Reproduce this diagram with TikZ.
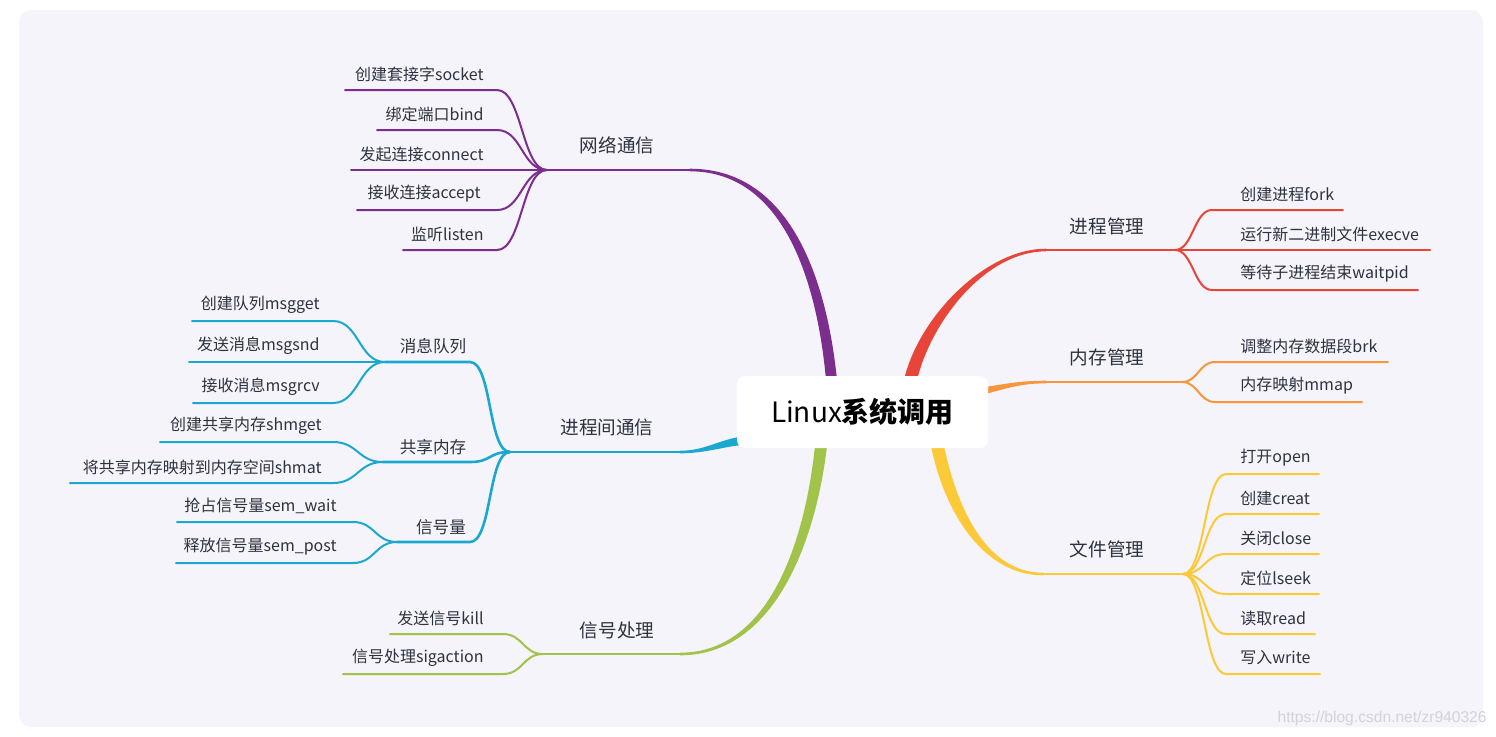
\documentclass[tikz,border=0pt]{standalone}
\usepackage{fontspec}
\setmainfont{Noto Sans CJK SC}
\newfontfamily\wmfont{Liberation Sans}
\definecolor{bgc}{HTML}{F5F4FA}
\definecolor{txt}{HTML}{2D3240}
\definecolor{pur}{HTML}{7B2E8E}
\definecolor{cya}{HTML}{1BA8CE}
\definecolor{grn}{HTML}{A1C34A}
\definecolor{rd}{HTML}{E84539}
\definecolor{ora}{HTML}{F7963A}
\definecolor{yel}{HTML}{FCC938}
\definecolor{wm}{HTML}{D2D2DA}
\tikzset{
  leaf/.style={font=\fontsize{8}{9.6}\selectfont, text=txt, inner sep=0pt},
  sublabel/.style={font=\fontsize{8.3}{10}\selectfont, text=txt, inner sep=0pt},
  brlabel/.style={font=\fontsize{9.3}{11}\selectfont, text=txt, inner sep=0pt},
  leafwire/.style={line width=1pt, line cap=round},
  brwire/.style={line width=1.3pt, line cap=round},
}
% name, text, xL, xR, y, textx, junction, colour, d
\newcommand\lleaf[9]{%
  \coordinate (#1-a) at (#3,#5);
  \coordinate (#1-b) at (#4,#5);
  \node[leaf,anchor=east] (#1) at (#6,#5-16) {#2};
  \draw[leafwire,#8] (#1-a) -- (#1-b) .. controls +(#9,0) and +(-#9,0) .. (#7);
}
\newcommand\rleaf[9]{%
  \coordinate (#1-a) at (#3,#5);
  \coordinate (#1-b) at (#4,#5);
  \node[leaf,anchor=west] (#1) at (#6,#5-16) {#2};
  \draw[leafwire,#8] (#7) .. controls +(#9,0) and +(-#9,0) .. (#1-a) -- (#1-b);
}
\begin{document}
\begin{tikzpicture}[x=0.5pt,y=-0.5pt]
\useasboundingbox (0,0) rectangle (1496,736);
\fill[white] (0,0) rectangle (1496,736);
\fill[bgc, rounded corners=6pt] (19,10) rectangle (1483,727);

% junctions and branch ends
\coordinate (J1) at (547,170);  \coordinate (A1) at (690,170);
\coordinate (J2) at (510,452);  \coordinate (A2) at (680,452);
\coordinate (J3) at (543,654);  \coordinate (A3) at (680,654);
\coordinate (J4) at (1175,250); \coordinate (A4) at (1046,250);
\coordinate (J5) at (1182,382); \coordinate (A5) at (1046,382);
\coordinate (J6) at (1183,574); \coordinate (A6) at (1043,574);
\coordinate (Q) at (385,362); \coordinate (Qe) at (470,362);
\coordinate (S) at (383,462); \coordinate (Se) at (470,462);
\coordinate (M) at (397,542); \coordinate (Me) at (470,542);

% tapered main branches
\fill[pur] (690,168.7) .. controls (795,168.7) and (828,290) .. (837,380) -- (826,380) .. controls (818,290) and (787,171.3) .. (690,171.3) -- cycle;
\fill[cya] (680,450.7) .. controls (705,450.7) and (718,440) .. (742,436.5) -- (742,445) .. controls (722,447) and (705,453.3) .. (680,453.3) -- cycle;
\fill[grn] (680,652.7) .. controls (770,652.7) and (805,540) .. (815,446) -- (827,446) .. controls (816,540) and (775,655.3) .. (680,655.3) -- cycle;
\fill[rd] (1046,248.7) .. controls (985,248.7) and (918,318) .. (904,380) -- (917,380) .. controls (931,322) and (985,251.3) .. (1046,251.3) -- cycle;
\fill[ora] (1046,380.7) .. controls (1020,380.7) and (1005,384) .. (985,387) -- (985,394) .. controls (1005,389) and (1020,383.3) .. (1046,383.3) -- cycle;
\fill[yel] (1043,575.3) .. controls (985,575.3) and (945,515) .. (931,446) -- (944,446) .. controls (958,512) and (988,572.7) .. (1043,572.7) -- cycle;

\draw[brwire,pur] (J1) -- (A1);
\draw[brwire,cya] (J2) -- (A2);
\draw[brwire,grn] (J3) -- (A3);
\draw[brwire,rd] (J4) -- (A4);
\draw[brwire,ora] (J5) -- (A5);
\draw[brwire,yel] (J6) -- (A6);

% IPC sub-branches
\draw[brwire,cya] (Q) -- (Qe) .. controls +(22,0) and +(-22,0) .. (J2);
\draw[brwire,cya] (S) -- (Se) .. controls +(22,0) and +(-22,0) .. (J2);
\draw[brwire,cya] (M) -- (Me) .. controls +(22,0) and +(-22,0) .. (J2);

% root
\node[fill=white, rounded corners=4pt, minimum width=125.5pt, minimum height=36pt, inner sep=0pt,
      font=\fontsize{14}{16}\selectfont, text=black] (root) at (862.5,412) {Linux\textbf{系统调用}};

% branch labels
\node[brlabel] (net) at (617,145) {网络通信};
\node[brlabel] (ipc) at (607,427) {进程间通信};
\node[brlabel] (sig) at (617,630) {信号处理};
\node[brlabel] (proc) at (1107,226) {进程管理};
\node[brlabel] (mem) at (1107,357) {内存管理};
\node[brlabel] (file) at (1107,549) {文件管理};
\node[sublabel] (mq) at (433,346) {消息队列};
\node[sublabel] (shm) at (433,447) {共享内存};
\node[sublabel] (sem) at (441,527) {信号量};

% network leaves
\lleaf{socket}{创建套接字socket}{345}{497}{90}{484}{J1}{pur}{25}
\lleaf{bind}{绑定端口bind}{377}{497}{130}{484}{J1}{pur}{25}
\lleaf{connect}{发起连接connect}{351}{497}{170}{484}{J1}{pur}{25}
\lleaf{accept}{接收连接accept}{357}{497}{210}{481}{J1}{pur}{25}
\lleaf{listen}{监听listen}{403}{497}{250}{484}{J1}{pur}{25}

% IPC leaves
\lleaf{msgget}{创建队列msgget}{192}{333}{321}{320}{Q}{cya}{26}
\lleaf{msgsnd}{发送消息msgsnd}{189}{333}{362}{320}{Q}{cya}{26}
\lleaf{msgrcv}{接收消息msgrcv}{193}{333}{403}{320}{Q}{cya}{26}
\lleaf{shmget}{创建共享内存shmget}{160}{333}{442}{322}{S}{cya}{25}
\lleaf{shmat}{将共享内存映射到内存空间shmat}{70}{333}{483}{322}{S}{cya}{25}
\lleaf{semwait}{抢占信号量sem\_wait}{177}{353}{522}{337}{M}{cya}{22}
\lleaf{sempost}{释放信号量sem\_post}{176}{353}{563}{337}{M}{cya}{22}

% signal leaves
\lleaf{kill}{发送信号kill}{390}{503}{634}{484}{J3}{grn}{20}
\lleaf{sigaction}{信号处理sigaction}{343}{503}{674}{484}{J3}{grn}{20}

% process leaves
\rleaf{fork}{创建进程fork}{1212}{1343}{210}{1240}{J4}{rd}{18}
\rleaf{execve}{运行新二进制文件execve}{1212}{1430}{250}{1240}{J4}{rd}{18}
\rleaf{waitpid}{等待子进程结束waitpid}{1212}{1418}{290}{1240}{J4}{rd}{18}

% memory leaves
\rleaf{brk}{调整内存数据段brk}{1215}{1388}{362}{1240}{J5}{ora}{16}
\rleaf{mmap}{内存映射mmap}{1215}{1362}{402}{1240}{J5}{ora}{16}

% file leaves
\rleaf{open}{打开open}{1226}{1319}{474}{1240}{J6}{yel}{22}
\rleaf{creat}{创建creat}{1226}{1319}{514}{1240}{J6}{yel}{22}
\rleaf{close}{关闭close}{1226}{1319}{554}{1240}{J6}{yel}{22}
\rleaf{lseek}{定位lseek}{1226}{1319}{594}{1240}{J6}{yel}{22}
\rleaf{read}{读取read}{1226}{1315}{634}{1240}{J6}{yel}{22}
\rleaf{write}{写入write}{1226}{1320}{674}{1240}{J6}{yel}{22}

% watermark
\node[font=\wmfont\fontsize{7.8}{9}\selectfont, text=wm, anchor=east, inner sep=0pt] (wmk) at (1487,718) {https://blog.csdn.net/zr940326};
\end{tikzpicture}
\end{document}
